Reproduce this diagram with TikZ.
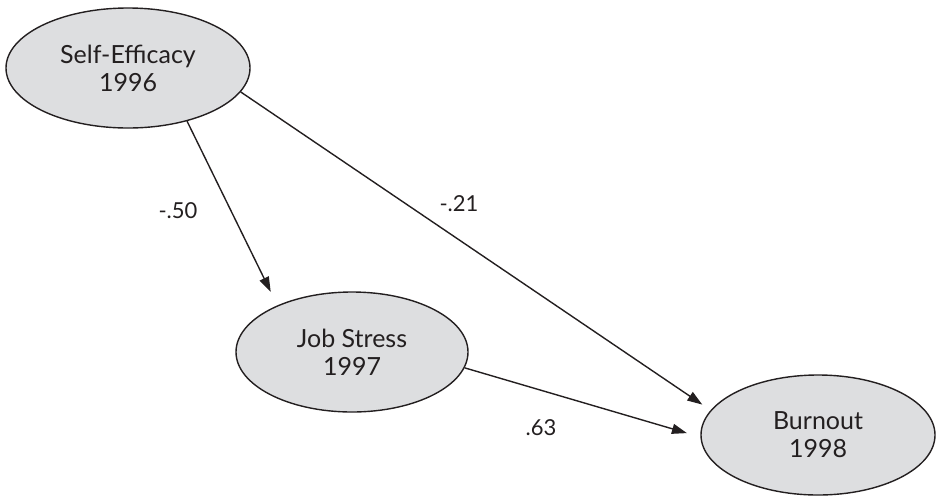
\documentclass[tikz,border=0pt]{standalone}
\usepackage{fontspec}
\setmainfont{Lato}
\usetikzlibrary{shapes.geometric,arrows.meta}

\definecolor{latentfill}{RGB}{221,222,224}
\definecolor{inkcol}{RGB}{35,31,32}

\tikzset{
  latent/.style={ellipse, draw=inkcol, line width=1.4pt, fill=latentfill,
    inner sep=0pt, align=center, text=inkcol,
    font=\fontsize{25}{28}\selectfont},
  path coef/.style={draw=inkcol, line width=1.4pt,
    -{Triangle[length=15pt,width=10pt]}},
  coef/.style={text=inkcol, inner sep=0pt, font=\fontsize{22}{24}\selectfont}
}

\begin{document}
\begin{tikzpicture}[x=1pt,y=-1pt]
  \useasboundingbox (0,0) rectangle (936,496);

  % latent variables
  \node[latent, minimum width=244pt, minimum height=120pt] (se) at (128,68)
    {Self-Efficacy\\1996};
  \node[latent, minimum width=232pt, minimum height=120pt] (js) at (352,352)
    {Job Stress\\1997};
  \node[latent, minimum width=234pt, minimum height=120pt] (bo) at (818,435)
    {Burnout\\1998};

  % structural paths
  \draw[path coef, shorten >=15pt] (se.-42.5) -- (js.148.9);
  \draw[path coef, shorten >=10pt] (se.-12.9) -- (bo.167.1);
  \draw[path coef, shorten >=14pt] (js.-8.7) -- (bo.-179.1);

  % path coefficients
  \node[coef] (c50) at (178,211) {-.50};
  \node[coef] (c21) at (459,204) {-.21};
  \node[coef] (c63) at (541,428) {.63};
\end{tikzpicture}
\end{document}
